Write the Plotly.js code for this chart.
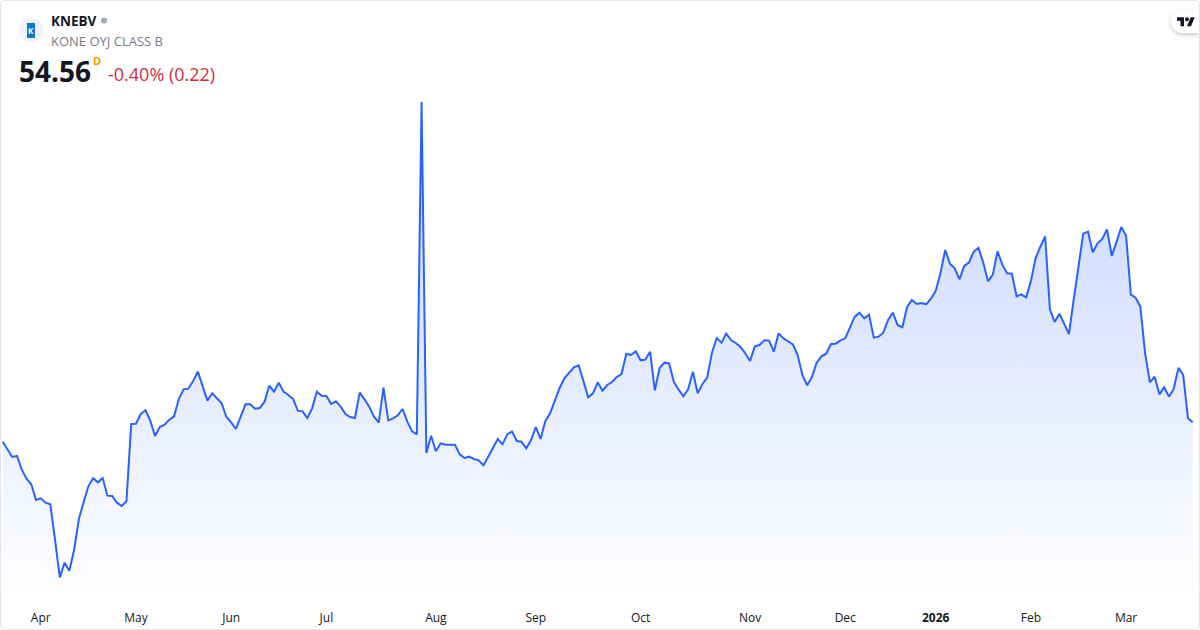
<!DOCTYPE html>
<html><head><meta charset="utf-8">
<script src="https://cdn.plot.ly/plotly-3.0.1.min.js"></script>
<style>
html,body{margin:0;padding:0;background:#fff;width:1200px;height:630px;overflow:hidden}
#chart{position:absolute;left:0;top:0;width:1200px;height:630px}
#frame{position:absolute;left:0;top:0;width:1198px;height:628px;border:1px solid #e3e5ea;border-radius:4px;pointer-events:none}
#tv{position:absolute;left:1171px;top:10px;width:29px;height:23px;background:#fff;border-radius:12px 0 0 12px;box-shadow:0 2px 4px rgba(0,0,0,.2)}
#tv svg{position:absolute;left:6px;top:5px;width:18px;height:13px}
</style></head><body>
<div id="chart"></div>
<div id="tv"><svg viewBox="0 3 36 19"><path fill="#131722" d="M14 22H7V11H0V4h14v18zM28 22h-8l7.5-18h8L28 22z"/><circle fill="#131722" cx="20" cy="8" r="4"/></svg></div>
<div id="frame"></div>
<script>
const prices = [53.40,52.90,52.48,52.54,51.74,51.18,50.84,49.90,50.00,49.74,49.64,47.50,45.26,46.14,45.66,46.90,48.76,49.76,50.72,51.20,
50.96,51.22,50.16,50.14,49.74,49.54,49.82,54.46,54.48,55.06,55.28,54.66,53.74,54.28,54.42,54.72,54.92,55.96,56.54,56.58,
57.04,57.60,56.74,55.86,56.30,56.00,55.70,54.88,54.56,54.16,54.90,55.64,55.64,55.38,55.42,55.80,56.76,56.40,56.94,56.40,
56.20,55.96,55.26,55.22,54.82,55.40,56.40,56.16,56.14,55.66,55.82,55.50,55.06,54.88,54.82,56.34,55.94,55.50,54.90,54.54,
56.64,54.68,54.80,54.98,55.36,54.60,54.02,53.84,73.78,52.72,53.76,52.82,53.30,53.22,53.22,53.22,52.64,52.42,52.50,52.36,
52.28,51.98,52.50,53.00,53.56,53.24,53.84,54.02,53.44,53.40,53.00,53.50,54.28,53.56,54.64,55.10,55.90,56.62,57.20,57.50,
57.86,57.98,57.06,56.06,56.30,56.96,56.46,56.80,56.98,57.28,57.46,58.68,58.60,58.82,58.28,58.32,58.80,56.48,57.82,58.14,
58.10,56.98,56.52,56.12,56.54,57.60,56.30,56.86,57.24,58.74,59.62,59.34,59.88,59.50,59.32,59.08,58.70,58.24,59.12,59.20,
59.48,59.46,58.80,59.90,59.60,59.42,59.24,58.60,57.40,56.78,57.28,58.14,58.52,58.68,59.26,59.28,59.48,59.60,60.30,60.90,
61.14,60.80,61.02,59.64,59.70,59.94,60.70,61.14,60.40,60.26,61.48,61.90,61.66,61.72,61.64,61.98,62.44,63.50,64.90,64.08,
63.80,63.14,63.94,64.14,64.80,65.02,64.14,63.02,63.42,64.82,64.02,63.50,63.48,62.12,62.24,62.06,63.02,64.42,65.10,65.72,
61.34,60.58,61.08,60.50,59.86,61.94,64.00,65.88,66.00,64.76,65.30,65.56,66.14,64.54,65.40,66.28,65.76,62.22,62.04,61.50,
58.70,56.96,57.30,56.24,56.66,56.10,56.56,57.84,57.40,54.80,54.56];
const sessions = prices.map((_, i) => i);
const tickPositions = [8,28,48,68,91,112,134,157,177,196,216,236];
const tickLabels = ['Apr','May','Jun','Jul','Aug','Sep','Oct','Nov','Dec','<b>2026</b>','Feb','Mar'];
const symbol = 'KNEBV';
const company = 'KONE OYJ CLASS B';
const lastPrice = '54.56';
const change = '-0.40% (0.22)';

const W = 1200, H = 630, B = 24, PH = H - B;
const FONT = '"Open Sans", "Noto Sans", sans-serif';
const px = x => x / W, py = y => 1 - y / PH;
const note = (x, y, text, size, color, extra) => Object.assign({
  xref:'paper', yref:'paper', x:px(x), y:py(y), text, showarrow:false,
  xanchor:'left', yanchor:'middle', font:{family:FONT, size, color}
}, extra || {});

Plotly.newPlot('chart', [{
  x: sessions, y: prices, type:'scatter', mode:'lines',
  line:{color:'#2962FF', width:2, shape:'linear'},
  fill:'tozeroy',
  fillgradient:{type:'vertical', start:73.78, stop:43.9,
    colorscale:[[0,'rgba(41,98,255,0.28)'],[1,'rgba(41,98,255,0)']]},
  hoverinfo:'skip'
}], {
  width:W, height:H, margin:{l:0,r:0,t:0,b:B,pad:0},
  paper_bgcolor:'#fff', plot_bgcolor:'#fff', showlegend:false,
  xaxis:{range:[-0.567,251.53], tickmode:'array', tickvals:tickPositions, ticktext:tickLabels,
    showgrid:false, zeroline:false, showline:false, ticks:'', fixedrange:true, ticklabelstandoff:3,
    tickfont:{family:FONT, size:12, color:'#131722'}},
  yaxis:{range:[43.54,79.9], visible:false, showgrid:false, zeroline:false, fixedrange:true},
  shapes:[
    {type:'circle', xref:'paper', yref:'paper', x0:px(19), x1:px(43), y0:py(42), y1:py(18), fillcolor:'#f0f3fa', line:{width:0}},
    {type:'rect', xref:'paper', yref:'paper', x0:px(27), x1:px(35), y0:py(38), y1:py(23), fillcolor:'#0a78c8', line:{width:0}},
    {type:'circle', xref:'paper', yref:'paper', x0:px(101), x1:px(107), y0:py(23.5), y1:py(17.5), fillcolor:'#a3a6af', line:{width:0}}
  ],
  annotations:[
    note(31, 30.5, '<b>K</b>', 8, '#ffffff', {xanchor:'center'}),
    note(49, 21, '<b>'+symbol+'</b>', 13.5, '#131722'),
    note(49, 40.5, company, 13, '#787b86'),
    note(17, 71, '<b>'+lastPrice+'</b>', 28, '#131722'),
    note(91, 61, '<b>D</b>', 11, '#ff9800'),
    note(106, 74.5, change, 18, '#cc2f3c')
  ]
}, {displayModeBar:false, staticPlot:true});
</script>
</body></html>
